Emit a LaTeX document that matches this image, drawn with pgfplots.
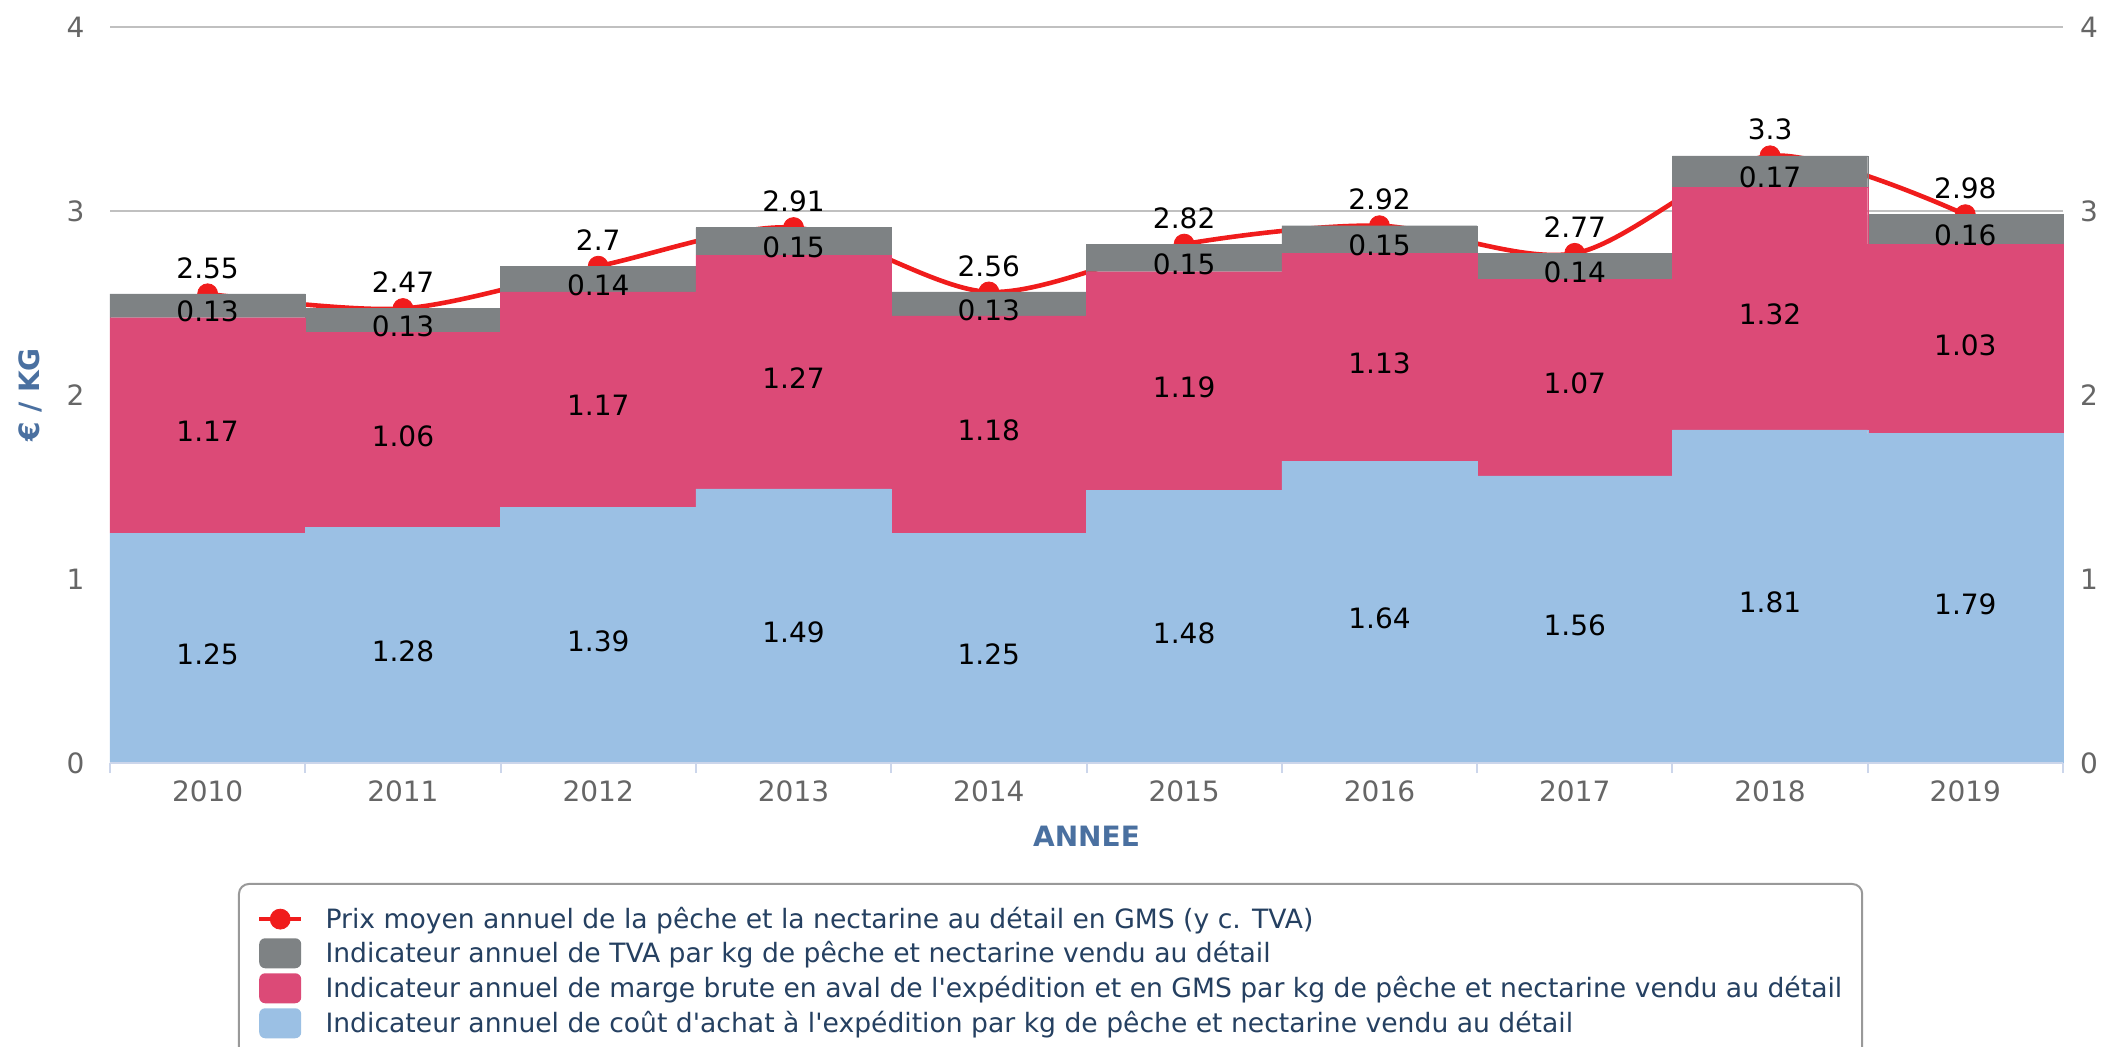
\documentclass[border=0pt]{standalone}
\usepackage{pgfplots}
\usepackage{pgfplotstable}
\pgfplotsset{compat=1.18}
\usepackage{fontspec}
\setmainfont{DejaVu Sans}
\definecolor{costblue}{RGB}{155,192,228}
\definecolor{margepink}{RGB}{220,74,119}
\definecolor{tvagrey}{RGB}{126,130,132}
\definecolor{linered}{RGB}{240,28,28}
\definecolor{gridgray}{RGB}{192,192,192}
\definecolor{axisblue}{RGB}{204,214,235}
\definecolor{ticktext}{RGB}{102,102,102}
\definecolor{labelblue}{RGB}{74,112,160}
\definecolor{legendtext}{RGB}{37,64,97}
\definecolor{legendborder}{RGB}{153,153,153}
\pgfplotstableread{
year x blue pink grey price
2010 0 1.25 1.17 0.13 2.55
2011 1 1.28 1.06 0.13 2.47
2012 2 1.39 1.17 0.14 2.7
2013 3 1.49 1.27 0.15 2.91
2014 4 1.25 1.18 0.13 2.56
2015 5 1.48 1.19 0.15 2.82
2016 6 1.64 1.13 0.15 2.92
2017 7 1.56 1.07 0.14 2.77
2018 8 1.81 1.32 0.17 3.3
2019 9 1.79 1.03 0.16 2.98
}\data
\pgfplotsset{
  base/.style={scale only axis, width=976.5pt, height=368pt, at={(0,0)}, anchor=south west,
    xmin=-0.5, xmax=9.5, ymin=0, ymax=4, clip=false},
  lbl/.style={draw=none, mark=none, forget plot, nodes near coords, point meta=explicit symbolic,
    every node near coord/.style={anchor=center, text=black, font=\fontsize{14}{16}\selectfont, #1}},
  boxlegend/.style={legend image code/.code={\fill[##1, rounded corners=3pt] (0pt,-7.5pt) rectangle (21pt,7.5pt);}},
  linelegend/.style={legend image code/.code={\draw[mark repeat=2, mark phase=2, ##1] plot coordinates {(0pt,0pt) (10.5pt,0pt) (21pt,0pt)};}},
}
\begin{document}
\begin{tikzpicture}
% Axis A: grid and line (behind bars)
\begin{axis}[base, ytick={1,2,3,4}, yticklabels={}, xtick=\empty, ymajorgrids,
  grid style={gridgray, line width=1pt}, axis line style={draw=none}, major tick length=0pt]
\addplot[smooth, line width=2.3pt, color=linered, mark=*, mark size=5pt,
  mark options={solid, fill=linered, line width=0.4pt}] table[x=x, y=price]{\data};
\end{axis}
% Axis B: stacked bars
\begin{axis}[base, ybar stacked, bar width=1, hide axis]
\addplot[fill=costblue, draw=costblue, line width=0.2pt] table[x=x, y=blue]{\data};
\addplot[fill=margepink, draw=margepink, line width=0.2pt] table[x=x, y=pink]{\data};
\addplot[fill=tvagrey, draw=tvagrey, line width=0.2pt] table[x=x, y=grey]{\data};
\end{axis}
% Axis C: decorations, labels, legend
\begin{axis}[base,
  axis x line*=bottom, axis y line*=left,
  x axis line style={draw=axisblue, line width=1pt, -},
  y axis line style={draw=none},
  xtick={0,...,9}, xticklabels={2010,2011,2012,2013,2014,2015,2016,2017,2018,2019},
  minor xtick={-0.5,0.5,...,9.5},
  major x tick style={draw=none},
  minor x tick style={draw=axisblue, line width=1pt},
  minor tick length=5pt, tick align=outside,
  ytick={0,1,2,3,4}, ytick style={draw=none},
  /pgf/number format/assume math mode=true,
  ticklabel style={font=\fontsize{14}{16}\selectfont, text=ticktext},
  yticklabel style={xshift=-5pt},
  xticklabel style={yshift=-1pt},
  xlabel={\textbf{ANNEE}}, ylabel={\textbf{€ / KG}},
  xlabel style={at={(axis description cs:0.5,-0.099)}, anchor=center, font=\fontsize{14}{16}\selectfont, text=labelblue},
  ylabel style={at={(axis description cs:-0.041,0.5)}, anchor=center, font=\fontsize{14}{16}\selectfont, text=labelblue},
  legend style={at={(axis description cs:0.0655,-0.163)}, anchor=north west,
    draw=legendborder, line width=1pt, rounded corners=5pt, fill=white,
    font=\fontsize{13.3}{15}\selectfont, text=legendtext, inner xsep=9pt, inner ysep=10.5pt,
    row sep=2.5pt, nodes={inner sep=1pt},
    /tikz/every odd column/.append style={column sep=10pt}},
  legend cell align=left]
\addlegendimage{linelegend, color=linered, line width=2.3pt, mark=*, mark size=5pt, mark options={fill=linered, line width=0.4pt}}
\addlegendentry{Prix moyen annuel de la pêche et la nectarine au détail en GMS (y c. TVA)}
\addlegendimage{boxlegend, fill=tvagrey, draw=none}
\addlegendentry{Indicateur annuel de TVA par kg de pêche et nectarine vendu au détail}
\addlegendimage{boxlegend, fill=margepink, draw=none}
\addlegendentry{Indicateur annuel de marge brute en aval de l\textquotesingle expédition et en GMS par kg de pêche et nectarine vendu au détail}
\addlegendimage{boxlegend, fill=costblue, draw=none}
\addlegendentry{Indicateur annuel de coût d\textquotesingle achat à l\textquotesingle expédition par kg de pêche et nectarine vendu au détail}
\addplot[lbl={yshift=-3pt}] table[x=x, y expr=\thisrow{blue}/2, meta=blue]{\data};
\addplot[lbl={yshift=-3pt}] table[x=x, y expr=\thisrow{blue}+\thisrow{pink}/2, meta=pink]{\data};
\addplot[lbl={yshift=-3pt}] table[x=x, y expr=\thisrow{blue}+\thisrow{pink}+\thisrow{grey}/2, meta=grey]{\data};
\addplot[lbl={yshift=13pt}] table[x=x, y=price, meta=price]{\data};
\end{axis}
% Axis D: right tick labels
\begin{axis}[base, axis x line=none, axis y line*=right, y axis line style={draw=none},
  ytick={0,1,2,3,4}, ytick style={draw=none},
  /pgf/number format/assume math mode=true,
  yticklabel style={font=\fontsize{14}{16}\selectfont, text=ticktext, xshift=5pt}]
\end{axis}
\pgfresetboundingbox
\useasboundingbox (-55pt,-141.5pt) rectangle (997.5pt,381.5pt);
\end{tikzpicture}
\end{document}
